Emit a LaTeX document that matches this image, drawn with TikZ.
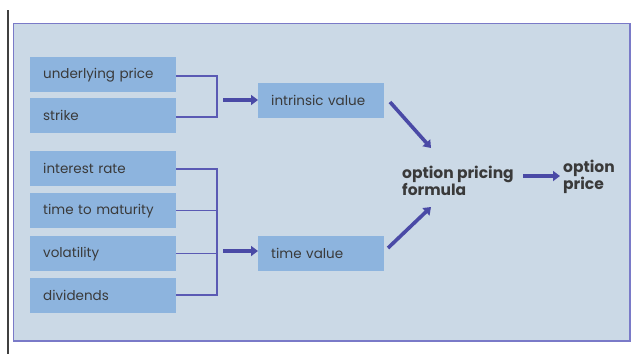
\documentclass[tikz,border=0pt]{standalone}
\usepackage{fontspec}
\setmainfont{Poppins}
\usetikzlibrary{arrows.meta}
\definecolor{panel}{HTML}{CBD9E6}
\definecolor{frameline}{HTML}{7A7AC8}
\definecolor{boxfill}{HTML}{8DB4DE}
\definecolor{linkcol}{HTML}{5A5AB4}
\definecolor{arrowcol}{HTML}{4A4AA6}
\definecolor{txt}{HTML}{3A3A3A}
\tikzset{
  x=1pt, y=-1pt,
  factor/.style={fill=boxfill, draw=none, minimum width=146pt, minimum height=35pt,
    text=txt, font=\fontsize{13.5}{15}\selectfont, anchor=north west,
    inner xsep=13pt, text width=120pt, align=left},
  result/.style={fill=boxfill, draw=none, minimum width=126pt, minimum height=35pt,
    text=txt, font=\fontsize{13.5}{15}\selectfont, anchor=north west,
    inner xsep=13pt, text width=100pt, align=left},
  link/.style={draw=linkcol, line width=1.3pt},
  bigarrow/.style={draw=arrowcol, line width=3.6pt,
    -{Triangle[length=7pt,width=10pt]}},
  label/.style={text=txt, font=\bfseries\fontsize{15.5}{17.5}\selectfont, align=left, inner sep=0pt}
}
\begin{document}
\begin{tikzpicture}
\useasboundingbox (0,0) rectangle (631,354);
\fill[white] (0,0) rectangle (631,354);
% left rule and framed panel
\draw[black!75, line width=1.2pt] (8,10) -- (8,354);
\draw[fill=panel, draw=frameline, line width=1.2pt] (13.5,23.5) rectangle (630,341);

% input factors
\node[factor] (up)  at (30,57)  {underlying price};
\node[factor] (st)  at (30,98)  {strike};
\node[factor] (ir)  at (30,151) {interest rate};
\node[factor] (ttm) at (30,193) {time to maturity};
\node[factor] (vol) at (30,236) {volatility};
\node[factor] (div) at (30,278) {dividends};

% value components
\node[result] (iv) at (258,83)  {intrinsic value};
\node[result] (tv) at (258,236) {time value};

% formula and output
\node[label, anchor=west] (opf) at (402,181) {option pricing\\formula};
\node[label, anchor=west] (op)  at (563,177) {option\\price};

% bracket joins
\coordinate (jtop) at (217,76);
\coordinate (jbot) at (217,117);
\draw[link] (up.east |- jtop) -- (jtop) -- (jbot) -- (st.east |- jbot);
\coordinate (k1) at (217,169);
\coordinate (k4) at (217,295);
\draw[link] (ir.east |- k1) -- (k1) -- (k4) -- (div.east |- k4);
\draw[link] (ttm.east) -- (ttm.east -| k1);
\draw[link] (vol.east) -- (vol.east -| k1);

% thick arrows
\coordinate (a1) at (223,100);
\draw[bigarrow] (a1) -- (iv.west |- a1);
\coordinate (a2) at (223,251);
\draw[bigarrow] (a2) -- (tv.west |- a2);
\coordinate (d1s) at (390,102);
\coordinate (d1e) at (431,148);
\draw[bigarrow] (d1s) -- (d1e);
\coordinate (d2s) at (388,248);
\coordinate (d2e) at (431,207);
\draw[bigarrow] (d2s) -- (d2e);
\coordinate (o1) at (523,176);
\coordinate (o2) at (560,176);
\draw[bigarrow] (o1) -- (o2);
\end{tikzpicture}
\end{document}
